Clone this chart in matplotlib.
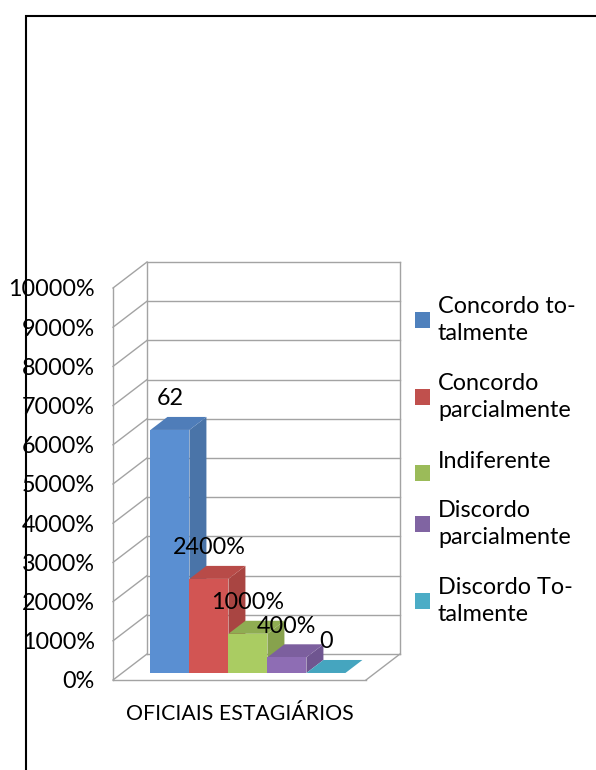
import matplotlib
matplotlib.use("Agg")
import matplotlib.pyplot as plt
from matplotlib.patches import Polygon, Rectangle

W, H = 596, 770

group = "OFICIAIS ESTAGIÁRIOS"
series = ["Concordo to-\ntalmente", "Concordo\nparcialmente", "Indiferente",
          "Discordo\nparcialmente", "Discordo To-\ntalmente"]
values = [62, 24, 10, 4, 0]
labels = ["62", "2400%", "1000%", "400%", "0"]
ticks = [0, 10, 20, 30, 40, 50, 60, 70, 80, 90, 100]
tick_labels = [f"{t * 100}%" for t in ticks]

front_colors = ["#5A8FD2", "#D25553", "#AACC62", "#8E6DB4", "#4BACC6"]
top_colors = ["#4F7DB9", "#B84B48", "#8FAD52", "#7C5F9E", "#45A5BF"]
side_colors = ["#4A74A8", "#A94542", "#87A24D", "#6F5590", "#3F94AB"]
legend_colors = ["#4F81BD", "#C0504D", "#9BBB59", "#8064A2", "#4BACC6"]
legend_box_y = [320, 397, 473, 524, 601]
legend_text_y = [320, 397, 461, 524, 601]

plt.rcParams["font.family"] = ["Lato", "DejaVu Sans"]
FS = 16.8
GRID = "#A3A3A3"

fig = plt.figure(figsize=(W / 100, H / 100), dpi=100)
ax = fig.add_axes([113 / W, (H - 680) / H, 253 / W, 392 / H])
ax.set_xlim(-0.5, 0.5)
ax.set_ylim(0, 100)
for s in ax.spines.values():
    s.set_visible(False)
ax.patch.set_visible(False)

# oblique projection, depth 0 is the front of the floor and 1 the back wall
DX = 34 / 253
DY = 26 / 392 * 100


def proj(x, y, d):
    return x + d * DX, y + d * DY


def wall_line(p0, p1):
    ax.plot([p0[0], p1[0]], [p0[1], p1[1]], color=GRID, lw=1.0, clip_on=False,
            solid_capstyle="projecting", zorder=1)


for t in ticks:
    wall_line(proj(-0.5, t, 0), proj(-0.5, t, 1))
    wall_line(proj(-0.5, t, 1), proj(0.5, t, 1))
wall_line(proj(-0.5, 0, 0), proj(-0.5, 100, 0))
wall_line(proj(-0.5, 0, 1), proj(-0.5, 100, 1))
wall_line(proj(0.5, 0, 1), proj(0.5, 100, 1))
wall_line(proj(-0.5, 0, 0), proj(0.5, 0, 0))
wall_line(proj(0.5, 0, 0), proj(0.5, 0, 1))

bar_w = 39 / 253
shift = -0.003
d0, d1 = 0.27, 0.77
for i, v in enumerate(values):
    x0 = (i - 2.5) * bar_w + shift
    x1 = x0 + bar_w
    z = 3 + i
    side = [proj(x1, 0, d0), proj(x1, 0, d1), proj(x1, v, d1), proj(x1, v, d0)]
    top = [proj(x0, v, d0), proj(x1, v, d0), proj(x1, v, d1), proj(x0, v, d1)]
    front = [proj(x0, 0, d0), proj(x1, 0, d0), proj(x1, v, d0), proj(x0, v, d0)]
    ax.add_patch(Polygon(side, facecolor=side_colors[i], edgecolor="none", clip_on=False, zorder=z))
    ax.add_patch(Polygon(top, facecolor=top_colors[i], edgecolor="none", clip_on=False, zorder=z))
    ax.add_patch(Polygon(front, facecolor=front_colors[i], edgecolor="none", clip_on=False, zorder=z))

for i, v in enumerate(values):
    lx, _ = proj((i - 2) * bar_w + shift, v, d0)
    _, ly = proj(0, v + 4.6, d1)
    ax.text(lx, ly, labels[i], fontsize=FS, color="black", ha="center", va="center",
            clip_on=False, zorder=20)

ax.set_yticks(ticks)
ax.set_yticklabels(tick_labels, fontsize=FS)
ax.set_xticks([0])
ax.set_xticklabels([group], fontsize=15.3)
ax.tick_params(axis="both", length=0)
ax.tick_params(axis="y", pad=13)
ax.tick_params(axis="x", pad=17)

# outer frame of the page, cut off at the right and bottom
fig.add_artist(plt.Line2D([25.5 / W, 25.5 / W, 1], [0, (H - 15.5) / H, (H - 15.5) / H],
                          color="black", lw=1.5, solid_joinstyle="miter"))

for name, c, by, ty in zip(series, legend_colors, legend_box_y, legend_text_y):
    fig.add_artist(Rectangle((415 / W, (H - by - 8) / H), 15 / W, 16 / H,
                             facecolor=c, edgecolor="none", transform=fig.transFigure))
    fig.text(438 / W, (H - ty) / H, name, fontsize=FS, color="black", ha="left",
             va="center", linespacing=1.3)

fig.savefig("out.png", dpi=100)
